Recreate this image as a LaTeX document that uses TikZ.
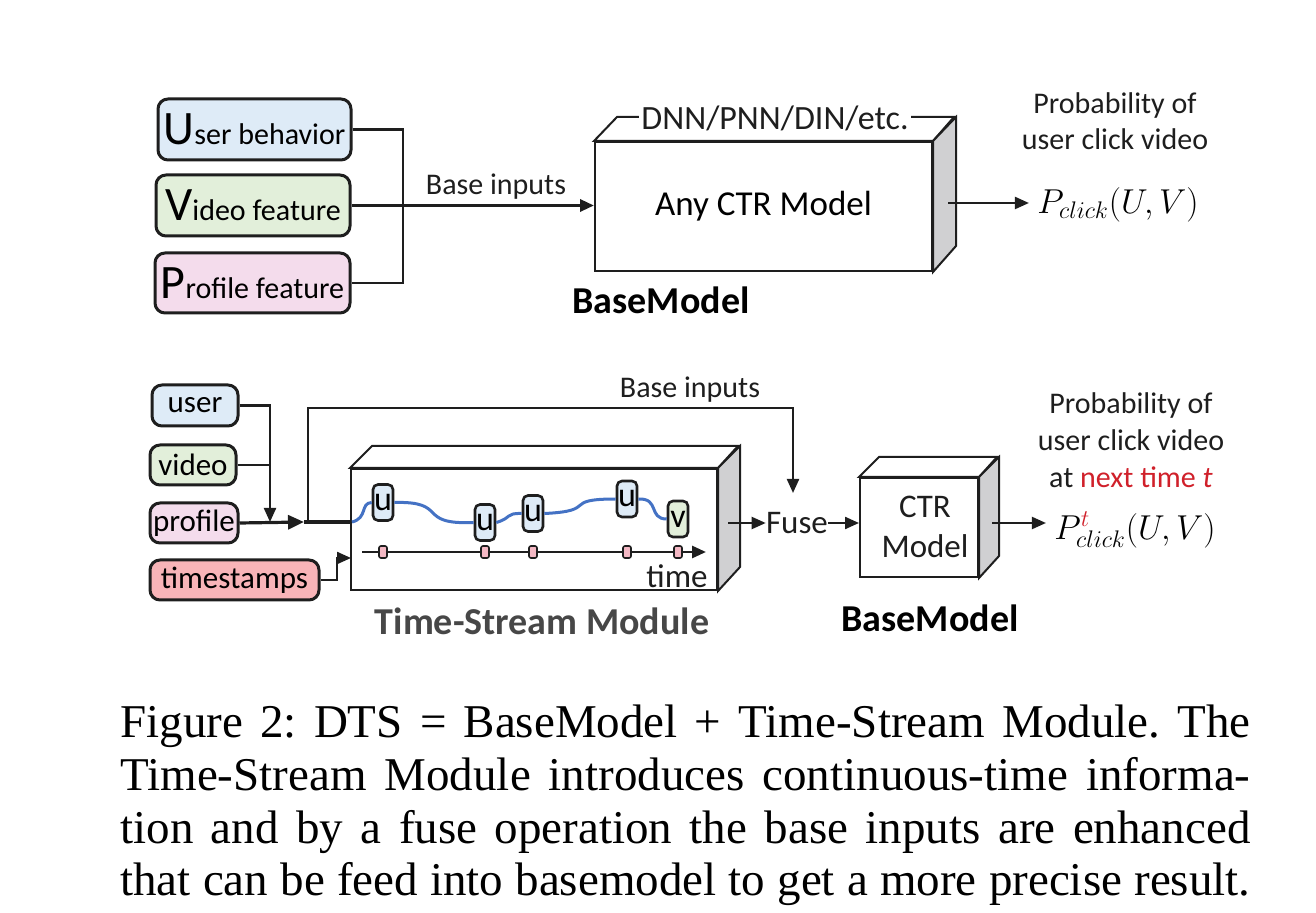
\documentclass[tikz,border=0pt]{standalone}
\usepackage{fontspec}
\setmainfont{Liberation Serif}
\newfontfamily\calfont{Carlito}
\usetikzlibrary{arrows.meta}
\definecolor{blueF}{HTML}{DEEBF7}
\definecolor{greenF}{HTML}{E2EFDA}
\definecolor{pinkF}{HTML}{F4DCEC}
\definecolor{salmonF}{HTML}{F8B4B8}
\definecolor{markF}{HTML}{F4B8C4}
\definecolor{faceG}{HTML}{D0D0D2}
\definecolor{curveB}{HTML}{4472C4}
\definecolor{redT}{HTML}{D0202A}
\definecolor{lineK}{HTML}{1E1E1E}
\begin{document}
\frenchspacing
\begin{tikzpicture}[x=0.5pt,y=-0.5pt,
  inbox/.style={draw=lineK, line width=1.5pt, rounded corners=5pt, inner sep=1pt, font=\calfont\fontsize{15.5}{18}\selectfont},
  conn/.style={line width=1.1pt, draw=lineK},
  arr/.style={conn, -{Triangle[length=7pt,width=6pt]}},
  face/.style={draw=lineK, line width=1pt},
  lbl/.style={font=\calfont\fontsize{15}{18}\selectfont, inner sep=0pt, text=lineK},
  bold/.style={font=\calfont\bfseries\fontsize{19}{22}\selectfont, inner sep=0pt},
  ubox/.style={draw=lineK, line width=1.3pt, rounded corners=2.5pt, fill=blueF, minimum width=10pt, minimum height=18pt, inner sep=0pt, font=\calfont\fontsize{17}{17}\selectfont},
  tmark/.style={draw=lineK, line width=0.8pt, fill=markF, rounded corners=1pt, minimum width=4pt, minimum height=6pt, inner sep=0pt},
  capline/.style={anchor=base west, inner sep=0pt, font=\fontsize{23.5}{26}\selectfont}
]
\useasboundingbox (0,0) rectangle (1316,913);

% ---------------- top: base model ----------------
\node[inbox, fill=blueF, minimum width=96.5pt, minimum height=30.5pt, font=\calfont\fontsize{15}{18}\selectfont] (ub) at (254.5,129.5)
  {{\fontsize{24}{24}\selectfont U}ser behavior};
\node[inbox, fill=greenF, minimum width=97pt, minimum height=30.5pt, font=\calfont\fontsize{15}{18}\selectfont] (vf) at (253,205.5)
  {{\fontsize{24}{24}\selectfont V}ideo feature};
\node[inbox, fill=pinkF, minimum width=97.5pt, minimum height=30pt, font=\calfont\fontsize{15}{18}\selectfont] (pf) at (252.5,283)
  {{\fontsize{24}{24}\selectfont P}rofile feature};

\node[face, minimum width=168.5pt, minimum height=64.5pt, inner sep=0pt, font=\calfont\fontsize{17.5}{20}\selectfont] (cube1) at (763.5,206.5) {Any CTR Model};
\draw[face, fill=white] (cube1.north west) -- ++(23,-24) -- ++(337,0) -- (cube1.north east) -- cycle;
\draw[face, fill=faceG] (cube1.north east) -- ++(23,-24) -- ++(0,129) -- (cube1.south east) -- cycle;
\node[lbl, fill=white, inner xsep=1pt, font=\calfont\fontsize{17}{20}\selectfont] (dnn) at (775,118) {DNN/PNN/DIN/etc.};
\node[bold] (bm1) at (661,300) {BaseModel};

\coordinate (j1) at (403,208);
\draw[conn] (ub.east) -| (j1) |- (pf.east);
\draw[conn, line width=1.6pt, -{Triangle[length=7pt,width=6pt]}] (vf.east) -- (vf.east -| cube1.west);
\node[lbl] (bi1) at (496,187) {Base inputs};

\node[lbl, align=center, font=\calfont\fontsize{15}{18}\selectfont] (prob1) at (1115,121) {Probability of\\user click video};
\node[inner sep=0pt, font=\fontsize{17}{20}\selectfont] (pc1) at (1118,205) {$P_{click}(U,V)$};
\coordinate (o1) at (948,203);
\draw[arr, shorten >=4pt] (o1) -- (pc1.west |- o1);

% ---------------- bottom: DTS ----------------
\node[inbox, fill=blueF, minimum width=43pt, minimum height=20.5pt] (us) at (195,405.5) {user};
\node[inbox, fill=greenF, minimum width=43pt, minimum height=20pt] (vi) at (193,465) {video};
\node[inbox, fill=pinkF, minimum width=44pt, minimum height=20pt] (pr) at (194,523) {profile};
\node[inbox, fill=salmonF, minimum width=84.5pt, minimum height=20pt] (tsb) at (234.5,580) {timestamps};

% time-stream cube
\node[face, minimum width=183pt, minimum height=60.5pt, inner sep=0pt] (tsm) at (534,529.5) {};
\draw[face, fill=white] (tsm.north west) -- ++(22,-22) -- ++(366,0) -- (tsm.north east) -- cycle;
\draw[face, fill=faceG] (tsm.north east) -- ++(22,-22) -- ++(0,121) -- (tsm.south east) -- cycle;
\node[bold, text=black!72] (tsml) at (542,621) {Time-Stream Module};

% connectors into the module
\coordinate (j2) at (270,522);
\draw[arr] (us.east) -| (j2);
\draw[conn] (vi.east) -- (vi.east -| j2);
\coordinate (pa) at (304,522);
\draw[conn, line width=1.6pt, -{Triangle[length=8pt,width=7pt]}] (pr.east) -- (pa);
\draw[conn, line width=1.6pt] (pa) -- (pa -| tsm.west);
\coordinate (fz) at (793,493);
\draw[arr] (308,522) |- (793,408) -- (fz);
\node[lbl] (bi2) at (690,390) {Base inputs};
\coordinate (tsin) at (351,558);
\draw[arr] (tsb.east) -- (337,580) -- (337,558) -- (tsin);

% stream inside module
\node[ubox] (u1) at (383,502.5) {u};
\node[ubox] (u2) at (485,522.5) {u};
\node[ubox] (u3) at (533,513.5) {u};
\node[ubox] (u4) at (627,499) {u};
\node[ubox, fill=greenF] (v1) at (678,519) {v};
\draw[curveB, line width=1.5pt] (352,522) .. controls (368,518) and (360,503) .. (u1.west);
\draw[curveB, line width=1.5pt] (u1.east) .. controls (450,501) and (415,525) .. (u2.west);
\draw[curveB, line width=1.5pt] (u2.east) .. controls (512,518) and (505,513) .. (u3.west);
\draw[curveB, line width=1.5pt] (u3.east) .. controls (600,511) and (560,499) .. (u4.west);
\draw[curveB, line width=1.5pt] (u4.east) .. controls (660,498) and (648,519) .. (v1.west);

\coordinate (ta) at (362,552);
\coordinate (tb) at (706,552);
\draw[conn, line width=1.4pt, -{Triangle[length=7pt,width=6pt]}] (ta) -- (tb);
\foreach \n/\x in {m1/383, m2/485, m3/533, m4/627, m5/678}
  \node[tmark] (\n) at (\x,552) {};
\node[lbl, font=\calfont\fontsize{16.5}{19}\selectfont] (time) at (677,576) {time};

% fuse and CTR model
\node[lbl, font=\calfont\fontsize{16.5}{19}\selectfont] (fuse) at (797,523) {Fuse};
\coordinate (o2) at (728,523);
\draw[arr] (o2) -- (fuse.west);
\node[face, minimum width=59pt, minimum height=49.5pt, inner sep=0pt] (ctr) at (919,527.5) {};
\draw[face, fill=white] (ctr.north west) -- ++(20,-20) -- ++(118,0) -- (ctr.north east) -- cycle;
\draw[face, fill=faceG] (ctr.north east) -- ++(20,-20) -- ++(0,99) -- (ctr.south east) -- cycle;
\node[lbl, align=center, font=\calfont\fontsize{16.5}{20}\selectfont] (ctrl) at (925,527) {CTR\\Model};
\draw[arr] (fuse.east) -- (ctr.west |- fuse.east);
\node[bold] (bm2) at (930,618) {BaseModel};

\node[lbl, align=center, font=\calfont\fontsize{15}{18.5}\selectfont] (prob2) at (1131,440) {Probability of\\user click video\\at \textcolor{redT}{next time \textit{t}}};
\node[inner sep=0pt, font=\fontsize{17}{20}\selectfont] (pc2) at (1135,530) {$P^{\textcolor{redT}{t}}_{click}(U,V)$};
\coordinate (o3) at (992,523);
\draw[arr, shorten >=4pt] (o3) -- (pc2.west |- o3);

% ---------------- caption ----------------
\node[capline] (c1) at (120,737) {\makebox[565pt][s]{Figure 2: DTS = BaseModel + Time-Stream Module. The}};
\node[capline] (c2) at (120,790) {\makebox[565pt][s]{Time-Stream Module introduces continuous-time informa-}};
\node[capline] (c3) at (120,843) {\makebox[565pt][s]{tion and by a fuse operation the base inputs are enhanced}};
\node[capline] (c4) at (120,895) {\makebox[565pt][s]{that can be feed into basemodel to get a more precise result.}};
\end{tikzpicture}
\end{document}
